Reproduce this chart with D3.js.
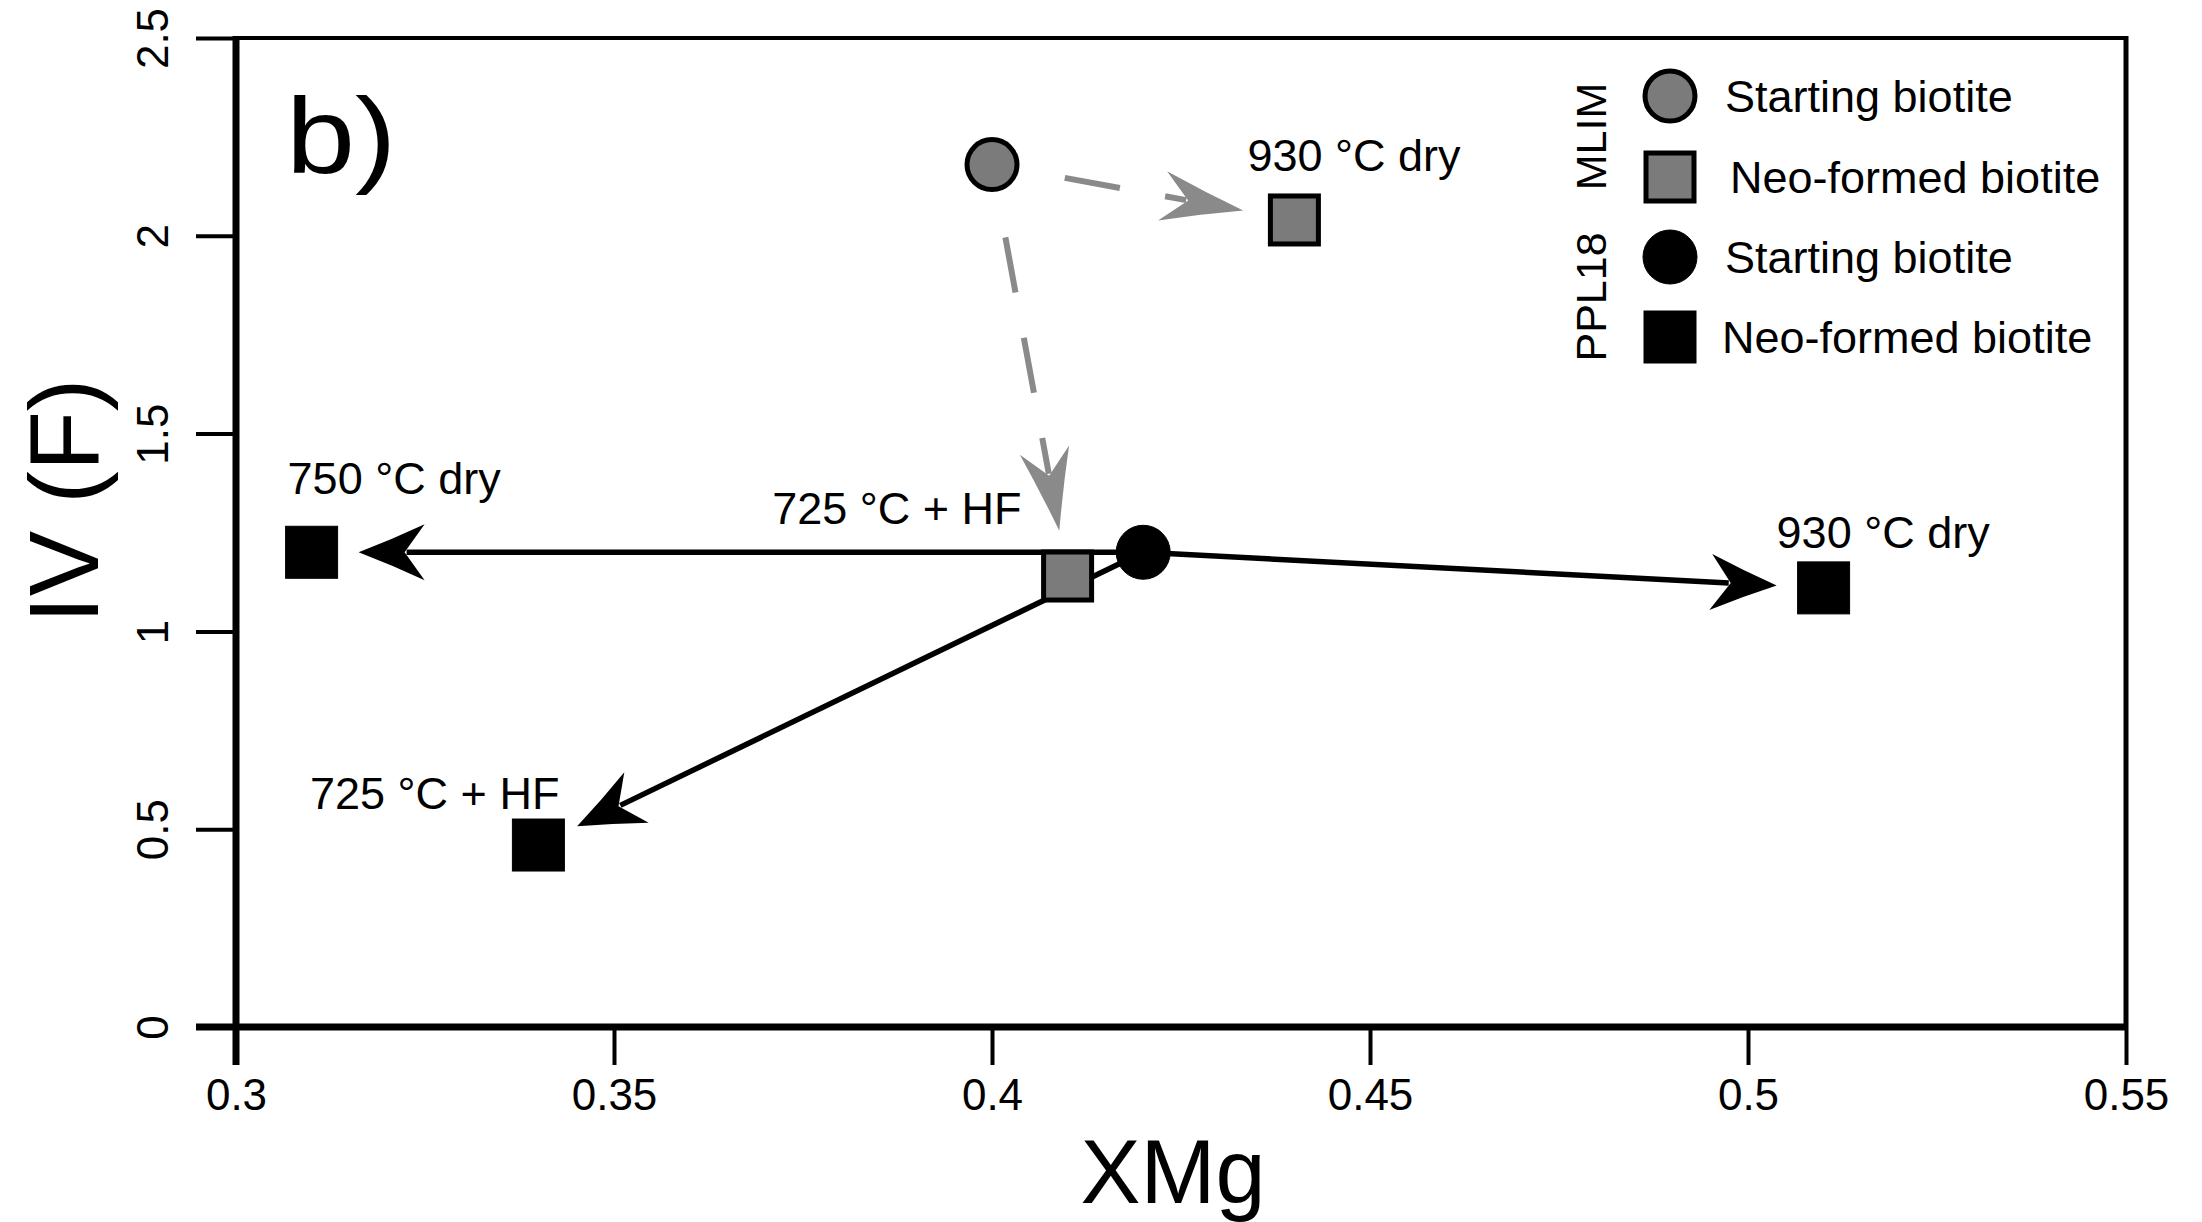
<!DOCTYPE html>
<html>
<head>
<meta charset="utf-8">
<script src="https://cdn.jsdelivr.net/npm/d3@7"></script>
<style>
  html, body { margin: 0; padding: 0; background: #fff; }
  svg { display: block; }
  text { font-family: "Liberation Sans", Arial, Helvetica, sans-serif; fill: #000; }
</style>
</head>
<body>
<svg id="chart" width="2202" height="1222"></svg>
<script>
// ---------------- data ----------------
const xTicks = [0.3, 0.35, 0.4, 0.45, 0.5, 0.55];
const yTicks = [0, 0.5, 1, 1.5, 2, 2.5];

// MLIM sample: [starting biotite, neo-formed 930 °C dry, neo-formed 725 °C + HF]
const mlimXMg = [0.40, 0.44, 0.41];
const mlimIVF = [2.18, 2.04, 1.14];
const mlimKind = ["start", "neo", "neo"];
const mlimLabels = ["", "930 °C dry", "725 °C + HF"];

// PPL18 sample: [starting biotite, 750 °C dry, 930 °C dry, 725 °C + HF]
const pplXMg = [0.42, 0.31, 0.51, 0.34];
const pplIVF = [1.20, 1.20, 1.11, 0.46];
const pplKind = ["start", "neo", "neo", "neo"];
const pplLabels = ["", "750 °C dry", "930 °C dry", "725 °C + HF"];

const legendGroups = ["MLIM", "PPL18"];
const legendLabels = ["Starting biotite", "Neo-formed biotite", "Starting biotite", "Neo-formed biotite"];

// ---------------- layout ----------------
const svg = d3.select("#chart");
const X0 = 236, X1 = 2126, Y0 = 1027, Y1 = 38;
const x = d3.scaleLinear().domain([0.3, 0.55]).range([X0, X1]);
const y = d3.scaleLinear().domain([0, 2.5]).range([Y0, Y1]);

const GRAY_FILL = "#7b7b7b";
const GRAY_LINE = "#8a8a8a";

svg.append("rect").attr("width", 2202).attr("height", 1222).attr("fill", "#fff");

// frame top/right
svg.append("line").attr("x1", X0).attr("x2", X1).attr("y1", Y1).attr("y2", Y1)
  .attr("stroke", "#000").attr("stroke-width", 4);
svg.append("line").attr("x1", X1).attr("x2", X1).attr("y1", Y1 - 2).attr("y2", Y0)
  .attr("stroke", "#000").attr("stroke-width", 5);

// axes via d3
const xAxis = d3.axisBottom(x).tickValues(xTicks).tickSize(38).tickPadding(14)
  .tickFormat(d => String(d));
const gx = svg.append("g").attr("transform", `translate(0,${Y0})`).call(xAxis);
gx.select(".domain").remove();
gx.selectAll(".tick line").attr("stroke", "#000").attr("stroke-width", 4);
gx.selectAll(".tick text").attr("font-size", 44).attr("fill", "#000")
  .style("font-family", "'Liberation Sans', Arial, sans-serif");

const yAxis = d3.axisLeft(y).tickValues(yTicks).tickSize(40).tickPadding(0)
  .tickFormat(d => String(d));
const gy = svg.append("g").attr("transform", `translate(${X0},0)`).call(yAxis);
gy.select(".domain").remove();
gy.selectAll(".tick line").attr("stroke", "#000").attr("stroke-width", 4);
gy.selectAll(".tick text")
  .attr("x", 0).attr("dy", null)
  .attr("text-anchor", "middle")
  .attr("dominant-baseline", "central")
  .attr("transform", "translate(-84,0) rotate(-90)")
  .attr("font-size", 44).attr("fill", "#000")
  .style("font-family", "'Liberation Sans', Arial, sans-serif");

// thick left & bottom axis lines
svg.append("line").attr("x1", X0).attr("x2", X0).attr("y1", Y1 - 2).attr("y2", Y0 + 38)
  .attr("stroke", "#000").attr("stroke-width", 7);
svg.append("line").attr("x1", X0 - 40).attr("x2", X1).attr("y1", Y0).attr("y2", Y0)
  .attr("stroke", "#000").attr("stroke-width", 7);

// axis titles
svg.append("text").attr("x", 1173).attr("y", 1203).attr("text-anchor", "middle")
  .attr("font-size", 90).text("XMg");
svg.append("text").attr("transform", "translate(98,501) rotate(-90)").attr("text-anchor", "middle")
  .attr("font-size", 98).text("IV (F)");

// panel letter
svg.append("text").attr("transform", "translate(286,173) scale(1.15,1)").attr("font-size", 108).text("b)");

// ---------------- arrows ----------------
function arrowHead(g, tipX, tipY, ang, L, W, N, color) {
  const p = `M0,0 Q${-L * 0.5},${-W * 0.45} ${-L},${-W} L${-N},0 L${-L},${W} Q${-L * 0.5},${W * 0.45} 0,0 Z`;
  g.append("path").attr("d", p).attr("fill", color)
    .attr("transform", `translate(${tipX},${tipY}) rotate(${ang * 180 / Math.PI})`);
}
function arrow(g, x0, y0, x1, y1, startGap, endGap, opt) {
  const dx = x1 - x0, dy = y1 - y0, len = Math.hypot(dx, dy);
  const ux = dx / len, uy = dy / len, ang = Math.atan2(dy, dx);
  const tipX = x1 - ux * endGap, tipY = y1 - uy * endGap;
  const sx = x0 + ux * startGap, sy = y0 + uy * startGap;
  const ex = tipX - ux * (opt.N + 2), ey = tipY - uy * (opt.N + 2);
  const ln = g.append("line").attr("x1", sx).attr("y1", sy).attr("x2", ex).attr("y2", ey)
    .attr("stroke", opt.color).attr("stroke-width", opt.width);
  if (opt.dash) ln.attr("stroke-dasharray", opt.dash);
  arrowHead(g, tipX, tipY, ang, opt.L, opt.W, opt.N, opt.color);
}

const arrows = svg.append("g");
// MLIM gray dashed arrows
const grayOpt = { color: GRAY_LINE, width: 6, dash: "56,46", L: 82, W: 25, N: 56 };
const mlimEndGaps = [0, 52, 46];
for (let i = 1; i < mlimXMg.length; i++) {
  arrow(arrows, x(mlimXMg[0]), y(mlimIVF[0]), x(mlimXMg[i]), y(mlimIVF[i]), 74, mlimEndGaps[i], grayOpt);
}
// PPL18 black arrows
const blackOpt = { color: "#000", width: 5.5, dash: null, L: 66, W: 28, N: 46 };
const pplEndGaps = [0, 47, 47, 43];
for (let i = 1; i < pplXMg.length; i++) {
  arrow(arrows, x(pplXMg[0]), y(pplIVF[0]), x(pplXMg[i]), y(pplIVF[i]), 0, pplEndGaps[i], blackOpt);
}

// ---------------- markers ----------------
function marker(g, cx, cy, kind, gray) {
  if (kind === "start") {
    g.append("circle").attr("cx", cx).attr("cy", cy).attr("r", gray ? 25 : 27)
      .attr("fill", gray ? GRAY_FILL : "#000").attr("stroke", "#000").attr("stroke-width", gray ? 5 : 1);
  } else {
    const s = gray ? 48 : 52;
    g.append("rect").attr("x", cx - s / 2).attr("y", cy - s / 2).attr("width", s).attr("height", s)
      .attr("fill", gray ? GRAY_FILL : "#000").attr("stroke", "#000").attr("stroke-width", gray ? 5 : 1);
  }
}
const marks = svg.append("g");
pplXMg.forEach((v, i) => marker(marks, x(v), y(pplIVF[i]), pplKind[i], false));
mlimXMg.forEach((v, i) => marker(marks, x(v), y(mlimIVF[i]), mlimKind[i], true));

// ---------------- point labels ----------------
const mlimLabelOff = [null, { dx: -47, dy: -49, a: "start" }, { dx: -46, dy: -52, a: "end" }];
const pplLabelOff = [null, { dx: -24, dy: -58, a: "start" }, { dx: -47, dy: -40, a: "start" }, { dx: 21, dy: -36, a: "end" }];
const labs = svg.append("g").attr("font-size", 45);
mlimLabels.forEach((t, i) => {
  if (!t) return;
  const o = mlimLabelOff[i];
  labs.append("text").attr("x", x(mlimXMg[i]) + o.dx).attr("y", y(mlimIVF[i]) + o.dy)
    .attr("text-anchor", o.a).text(t);
});
pplLabels.forEach((t, i) => {
  if (!t) return;
  const o = pplLabelOff[i];
  labs.append("text").attr("x", x(pplXMg[i]) + o.dx).attr("y", y(pplIVF[i]) + o.dy)
    .attr("text-anchor", o.a).text(t);
});

// ---------------- legend ----------------
const leg = svg.append("g");
const legRowY = [96, 177, 257, 337];
const legKinds = ["start", "neo", "start", "neo"];
const legGray = [true, true, false, false];
const legTextX = [1725, 1730, 1725, 1722];
legendLabels.forEach((t, i) => {
  marker(leg, 1670, legRowY[i], legKinds[i], legGray[i]);
  leg.append("text").attr("x", legTextX[i]).attr("y", legRowY[i]).attr("dominant-baseline", "central")
    .attr("font-size", 45).text(t);
});
legendGroups.forEach((t, i) => {
  const cy = (legRowY[i * 2] + legRowY[i * 2 + 1]) / 2;
  leg.append("text").attr("transform", `translate(1591,${cy}) rotate(-90)`)
    .attr("text-anchor", "middle").attr("dominant-baseline", "central")
    .attr("font-size", 43).text(t);
});
</script>
</body>
</html>
